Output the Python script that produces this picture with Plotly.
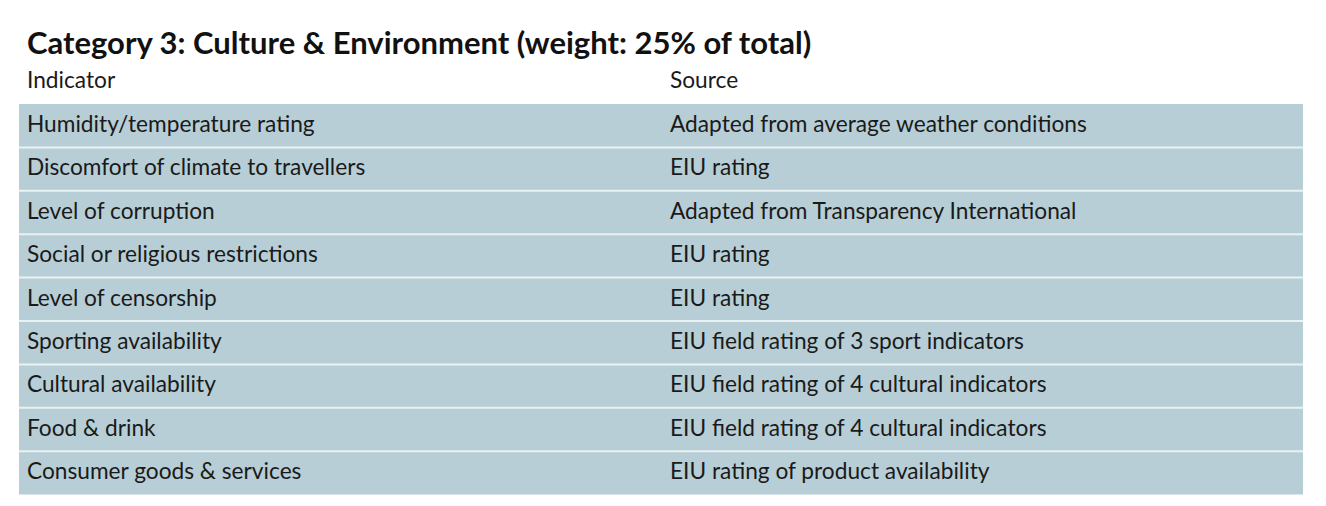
import plotly.graph_objects as go

title = "Category 3: Culture & Environment (weight: 25% of total)"
headers = ["Indicator", "Source"]
indicators = [
    "Humidity/temperature rating",
    "Discomfort of climate to travellers",
    "Level of corruption",
    "Social or religious restrictions",
    "Level of censorship",
    "Sporting availability",
    "Cultural availability",
    "Food & drink",
    "Consumer goods & services",
]
sources = [
    "Adapted from average weather conditions",
    "EIU rating",
    "Adapted from Transparency International",
    "EIU rating",
    "EIU rating",
    "EIU field rating of 3 sport indicators",
    "EIU field rating of 4 cultural indicators",
    "EIU field rating of 4 cultural indicators",
    "EIU rating of product availability",
]

W, H = 1326, 506
FONT = "Lato"
FS = 22.7
FILL = "#b7ced6"
SEP = "#e9f1f3"
CLEAR = "rgba(0,0,0,0)"
LEFT, RIGHT = 11, 1295
TABLE_TOP, HEAD_H, ROW_H = 50, 44, 43.4
BODY_TOP = 96  # top of the shaded body


def marked(s):
    # every label goes through the same markup path so all rows line up
    return "<span>" + s.replace("&", "&amp;") + "</span>"


fig = go.Figure(go.Table(
    columnwidth=[643, 641],
    header=dict(
        values=[marked(s) for s in headers],
        align="left",
        fill_color=CLEAR,
        line=dict(color=CLEAR, width=0),
        font=dict(family=FONT, size=FS, color="#1a1a1a"),
        height=HEAD_H,
    ),
    cells=dict(
        values=[[marked(s) for s in indicators], [marked(s) for s in sources]],
        align="left",
        fill_color=CLEAR,
        line=dict(color=CLEAR, width=0),
        font=dict(family=FONT, size=FS, color="#1a1a1a"),
        height=ROW_H,
    ),
    domain=dict(x=[LEFT / W, RIGHT / W], y=[0, (H - TABLE_TOP) / H]),
))

n = len(indicators)
shapes = [dict(type="rect", xref="paper", yref="paper", layer="below",
               x0=LEFT / W, x1=RIGHT / W,
               y0=1 - (BODY_TOP + n * ROW_H) / H, y1=1 - BODY_TOP / H,
               fillcolor=FILL, line=dict(width=0))]
for k in range(1, n):
    yy = 1 - (BODY_TOP + k * ROW_H) / H
    shapes.append(dict(type="line", xref="paper", yref="paper", layer="below",
                       x0=LEFT / W, x1=RIGHT / W, y0=yy, y1=yy,
                       line=dict(color=SEP, width=2)))

fig.update_layout(
    width=W, height=H,
    margin=dict(l=0, r=0, t=0, b=0),
    paper_bgcolor="white",
    plot_bgcolor="rgba(0,0,0,0)",
    shapes=shapes,
    annotations=[dict(
        text="<b>" + title + "</b>",
        x=17 / W, y=1 - 34 / H, xref="paper", yref="paper",
        xanchor="left", yanchor="middle", showarrow=False,
        font=dict(family=FONT, size=31, color="#111111"),
    )],
)

fig.write_html("out.html")
